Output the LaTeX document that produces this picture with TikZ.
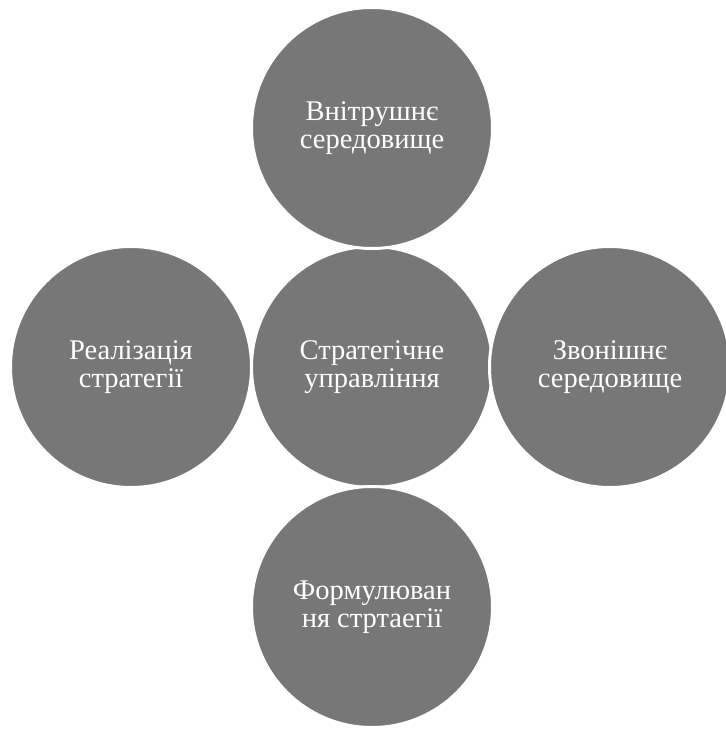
\documentclass[tikz,border=0pt]{standalone}
\usepackage{fontspec}
\setmainfont{Liberation Serif}
\definecolor{discgray}{RGB}{119,119,119}
\begin{document}
\begin{tikzpicture}[x=1pt,y=1pt,
  disc/.style={circle, fill=discgray, draw=white, line width=3pt, minimum size=241pt, inner sep=0pt,
    text=white, font=\fontsize{28.5}{28}\selectfont, align=center}]
\useasboundingbox (0,0) rectangle (726,729);
\node[disc] (c) at (372,362) {Стратегічне\\управління};
\node[disc] (t) at (372,601) {Внітрушнє\\середовище};
\node[disc] (l) at (131,362) {Реалізація\\стратегії};
\node[disc] (r) at (610,362) {Звонішнє\\середовище};
\node[disc] (b) at (372,122) {Формулюван\\ня стртаегії};
\end{tikzpicture}
\end{document}
